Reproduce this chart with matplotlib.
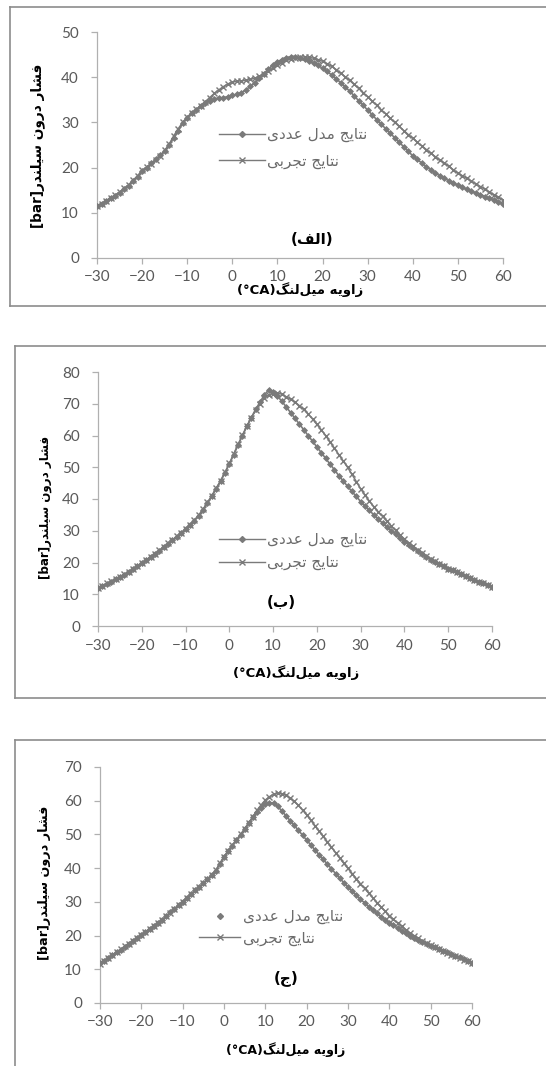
import numpy as np
import matplotlib
matplotlib.use("Agg")
import matplotlib.pyplot as plt
from matplotlib.lines import Line2D

# crank angle grid (deg CA)
crank_angle = np.arange(-30, 61)

# panel (الف)
p1_model = [11.6, 12.0, 12.6, 13.2, 13.8, 14.4, 15.2, 16.0, 17.0, 18.0,
            19.2, 20.0, 21.0, 21.8, 22.8, 23.6, 25.0, 26.6, 28.2, 29.8,
            31.0, 32.0, 32.8, 33.6, 34.3, 34.8, 35.2, 35.4, 35.5, 35.7,
            36.0, 36.2, 36.6, 37.2, 38.0, 38.8, 39.8, 40.8, 41.8, 42.7,
            43.4, 43.9, 44.3, 44.5, 44.5, 44.3, 44.0, 43.6, 43.1, 42.6,
            42.0, 41.3, 40.5, 39.7, 38.8, 37.9, 36.9, 35.9, 34.8, 33.8,
            32.7, 31.7, 30.6, 29.6, 28.6, 27.6, 26.6, 25.6, 24.6, 23.6,
            22.6, 21.8, 21.0, 20.2, 19.5, 18.8, 18.2, 17.6, 17.1, 16.6,
            16.1, 15.6, 15.2, 14.8, 14.4, 14.0, 13.6, 13.2, 12.8, 12.3,
            11.9]
p1_exp = [11.4, 12.0, 12.7, 13.3, 13.9, 14.6, 15.4, 16.2, 17.2, 18.2,
          19.4, 20.1, 20.9, 21.7, 22.6, 23.8, 25.2, 27.0, 28.6, 30.0,
          31.2, 32.1, 32.9, 33.7, 34.6, 35.5, 36.4, 37.2, 37.9, 38.5,
          38.9, 39.1, 39.2, 39.3, 39.5, 39.8, 40.2, 40.8, 41.4, 42.0,
          42.6, 43.2, 43.7, 44.0, 44.3, 44.4, 44.5, 44.4, 44.2, 43.9,
          43.5, 43.0, 42.4, 41.7, 40.9, 40.1, 39.3, 38.4, 37.5, 36.6,
          35.7, 34.7, 33.8, 32.8, 31.9, 30.9, 30.0, 29.1, 28.2, 27.3,
          26.5, 25.6, 24.8, 24.0, 23.2, 22.4, 21.7, 21.0, 20.3, 19.5,
          18.8, 18.2, 17.6, 17.0, 16.4, 15.8, 15.2, 14.6, 14.0, 13.4,
          12.9]

# panel (ب)
p2_model = [12.0, 12.6, 13.3, 14.0, 14.7, 15.4, 16.2, 17.0, 17.9, 18.8,
            19.7, 20.7, 21.7, 22.7, 23.7, 24.8, 25.9, 27.0, 28.1, 29.3,
            30.5, 31.8, 33.2, 34.8, 36.6, 38.7, 40.9, 43.2, 45.6, 48.2,
            51.0, 54.0, 57.0, 60.0, 62.9, 65.6, 68.2, 70.5, 72.8, 74.4,
            73.8, 72.4, 70.8, 69.0, 67.2, 65.4, 63.6, 61.8, 60.0, 58.2,
            56.4, 54.6, 52.8, 51.0, 49.2, 47.4, 45.7, 44.0, 42.4, 40.8,
            39.2, 37.8, 36.4, 35.0, 33.7, 32.4, 31.2, 30.0, 28.9, 27.8,
            26.6, 25.6, 24.6, 23.6, 22.6, 21.7, 20.9, 20.2, 19.5, 18.8,
            18.1, 17.5, 16.9, 16.3, 15.7, 15.1, 14.5, 13.9, 13.4, 12.9,
            12.4]
p2_exp = [12.1, 12.7, 13.4, 14.1, 14.8, 15.5, 16.3, 17.1, 18.0, 18.9,
          19.8, 20.8, 21.8, 22.8, 23.8, 24.9, 26.0, 27.1, 28.2, 29.4,
          30.6, 31.9, 33.3, 34.9, 36.8, 38.9, 41.1, 43.4, 45.8, 48.4,
          51.2, 54.2, 57.2, 60.1, 62.9, 65.5, 67.9, 70.0, 71.8, 72.8,
          73.2, 73.4, 73.0, 72.2, 71.4, 70.5, 69.4, 68.2, 66.8, 65.2,
          63.5, 61.8, 60.0, 58.0, 56.0, 54.0, 52.0, 50.0, 47.8, 45.5,
          43.2, 41.2, 39.3, 37.6, 36.0, 34.5, 33.0, 31.5, 30.1, 28.7,
          27.4, 26.2, 25.1, 24.0, 23.0, 22.1, 21.2, 20.4, 19.6, 18.8,
          18.1, 17.5, 16.9, 16.3, 15.7, 15.1, 14.5, 13.9, 13.4, 12.9,
          12.4]

# panel (ج)
p3_model = [11.8, 12.5, 13.3, 14.1, 15.0, 15.8, 16.7, 17.6, 18.5, 19.3,
            20.2, 21.1, 22.0, 22.9, 23.8, 24.7, 25.8, 26.9, 28.0, 29.0,
            30.1, 31.2, 32.3, 33.4, 34.4, 35.5, 36.7, 37.9, 39.2, 41.3,
            43.3, 45.0, 46.6, 48.2, 49.8, 51.6, 53.4, 55.1, 56.6, 57.9,
            58.9, 59.4, 59.3, 58.3, 57.0, 55.5, 54.1, 52.7, 51.2, 49.8,
            48.3, 46.9, 45.4, 44.0, 42.6, 41.2, 39.8, 38.4, 37.0, 35.7,
            34.4, 33.2, 32.0, 30.8, 29.7, 28.6, 27.6, 26.6, 25.6, 24.7,
            23.8, 23.0, 22.2, 21.4, 20.7, 20.0, 19.4, 18.8, 18.2, 17.6,
            17.0, 16.5, 16.0, 15.5, 15.0, 14.5, 14.0, 13.5, 13.0, 12.5,
            12.0]
p3_exp = [11.7, 12.4, 13.3, 14.2, 15.1, 15.9, 16.8, 17.6, 18.4, 19.3,
          20.1, 21.0, 21.9, 22.8, 23.7, 24.6, 25.7, 26.8, 27.9, 29.0,
          30.1, 31.2, 32.3, 33.4, 34.5, 35.6, 36.8, 38.0, 39.4, 41.4,
          43.4, 45.1, 46.8, 48.4, 50.0, 51.7, 53.5, 55.3, 57.2, 58.8,
          60.2, 61.2, 61.9, 62.2, 62.1, 61.6, 60.8, 59.8, 58.6, 57.2,
          55.8, 54.2, 52.6, 51.0, 49.4, 47.8, 46.2, 44.6, 43.0, 41.4,
          39.9, 38.4, 36.9, 35.4, 34.0, 32.6, 31.2, 29.8, 28.5, 27.2,
          25.9, 24.8, 23.7, 22.7, 21.7, 20.8, 20.0, 19.2, 18.5, 17.8,
          17.1, 16.5, 15.9, 15.3, 14.8, 14.3, 13.8, 13.3, 12.8, 12.4,
          12.0]

x_ticks = [-30, -20, -10, 0, 10, 20, 30, 40, 50, 60]
label_model = "نتایج مدل عددی"
label_exp = "نتایج تجربی"
y_title = "فشار درون سیلندر"
x_title = "زاویه میل‌لنگ"
panel_tags = ["الف", "ب", "ج"]

# Arabic presentation forms: isolated, final, initial, medial
FORMS = {
    'ا': ('\uFE8D', '\uFE8E', None, None),
    'ب': ('\uFE8F', '\uFE90', '\uFE91', '\uFE92'),
    'ت': ('\uFE95', '\uFE96', '\uFE97', '\uFE98'),
    'ج': ('\uFE9D', '\uFE9E', '\uFE9F', '\uFEA0'),
    'د': ('\uFEA9', '\uFEAA', None, None),
    'ر': ('\uFEAD', '\uFEAE', None, None),
    'ز': ('\uFEAF', '\uFEB0', None, None),
    'س': ('\uFEB1', '\uFEB2', '\uFEB3', '\uFEB4'),
    'ش': ('\uFEB5', '\uFEB6', '\uFEB7', '\uFEB8'),
    'ع': ('\uFEC9', '\uFECA', '\uFECB', '\uFECC'),
    'ف': ('\uFED1', '\uFED2', '\uFED3', '\uFED4'),
    'ل': ('\uFEDD', '\uFEDE', '\uFEDF', '\uFEE0'),
    'م': ('\uFEE1', '\uFEE2', '\uFEE3', '\uFEE4'),
    'ن': ('\uFEE5', '\uFEE6', '\uFEE7', '\uFEE8'),
    'ه': ('\uFEE9', '\uFEEA', '\uFEEB', '\uFEEC'),
    'و': ('\uFEED', '\uFEEE', None, None),
    'ی': ('\uFEEF', '\uFEF0', '\uFEF3', '\uFEF4'),
    'گ': ('\uFB92', '\uFB93', '\uFB94', '\uFB95'),
}


def fa(text):
    # shape persian letters and put them in visual (left to right) order
    out = []
    for i, ch in enumerate(text):
        if ch not in FORMS:
            if ch != '\u200c':
                out.append(ch)
            continue
        f = FORMS[ch]
        prev = text[i - 1] if i > 0 else ''
        nxt = text[i + 1] if i + 1 < len(text) else ''
        join_prev = prev in FORMS and FORMS[prev][2] is not None
        join_next = f[2] is not None and nxt in FORMS
        if join_prev and join_next:
            out.append(f[3])
        elif join_prev:
            out.append(f[1])
        elif join_next:
            out.append(f[2])
        else:
            out.append(f[0])
    return ''.join(reversed(out))


W, H = 546, 1066
LINE = '#7a7a7a'
TICK_TXT = '#595959'
FA_FONT = ['DejaVu Sans']


def fx(px):
    return px / W


def fy(py):
    return 1 - py / H


def draw_frame(fig, left, top, bottom):
    kw = dict(transform=fig.transFigure, color='#8c8c8c', lw=1.2)
    fig.add_artist(Line2D([fx(left), 1.0], [fy(top), fy(top)], **kw))
    fig.add_artist(Line2D([fx(left), fx(left)], [fy(top), fy(bottom)], **kw))
    if bottom < H:
        fig.add_artist(Line2D([fx(left), 1.0], [fy(bottom), fy(bottom)], **kw))


def draw_panel(fig, box, model, exp, ymax, legend, texts):
    x0, x1, ytop, y0 = box
    ax = fig.add_axes([fx(x0), fy(y0), fx(x1) - fx(x0), (y0 - ytop) / H])
    ax.plot(crank_angle, exp, color=LINE, lw=1.1, marker='x', ms=3.8,
            mew=1.0, zorder=3)
    ax.plot(crank_angle, model, color=LINE, lw=1.2, marker='D', ms=3.0,
            mew=0.6, zorder=4)
    ax.set_xlim(-30, 60)
    ax.set_ylim(0, ymax)
    ax.set_xticks(x_ticks)
    ax.set_yticks(np.arange(0, ymax + 1, 10))
    for s in ['top', 'right']:
        ax.spines[s].set_visible(False)
    for s in ['left', 'bottom']:
        ax.spines[s].set_color('#b0b0b0')
        ax.spines[s].set_linewidth(0.9)
    ax.tick_params(colors='#b0b0b0', labelcolor=TICK_TXT, length=4,
                   width=0.9, labelsize=11)
    ax.tick_params(axis='y', pad=9)
    ax.tick_params(axis='x', pad=5)
    for lab in ax.get_xticklabels() + ax.get_yticklabels():
        lab.set_fontfamily('Lato')
    ax.patch.set_alpha(0)

    lx, ly, hl, spacing, marker_only = legend
    if marker_only:
        h1 = Line2D([], [], ls='none', color=LINE, marker='D', ms=3.0)
    else:
        h1 = Line2D([], [], color=LINE, lw=1.0, marker='D', ms=3.0)
    h2 = Line2D([], [], color=LINE, lw=1.0, marker='x', ms=3.8, mew=1.0)
    leg = ax.legend([h1, h2], [fa(label_model), fa(label_exp)],
                    loc='upper left', bbox_to_anchor=(fx(lx), fy(ly)),
                    bbox_transform=fig.transFigure, frameon=False,
                    handlelength=hl, handletextpad=0.15, borderpad=0,
                    borderaxespad=0, labelspacing=spacing,
                    prop={'family': FA_FONT, 'size': 11})
    for t in leg.get_texts():
        t.set_color('#6b6b6b')

    (tx, ty, tag), (xlx, xly, xs), (ylx, yly, ys) = texts
    fig.text(fx(tx), fy(ty), '(' + fa(tag) + ')', ha='center', va='center',
             family=FA_FONT, fontsize=11, fontweight='bold')
    fig.text(fx(xlx), fy(xly), '(°CA)' + fa(x_title), ha='center',
             va='center', family=FA_FONT, fontsize=xs, fontweight='bold')
    fig.text(fx(ylx), fy(yly), '[bar]' + fa(y_title), ha='center',
             va='center', rotation=90, family=FA_FONT, fontsize=ys,
             fontweight='bold')
    return ax


if __name__ == "__main__":
    fig = plt.figure(figsize=(W / 100, H / 100), dpi=100)

    draw_frame(fig, 10, 7, 306)
    draw_frame(fig, 15, 346, 698)
    draw_frame(fig, 15, 740, H + 10)

    draw_panel(fig, (97, 503, 32, 258), p1_model, p1_exp, 50,
               (219, 127, 3.0, 0.75, False),
               ((312, 240, panel_tags[0]), (300, 290, 9.5), (38, 146, 9.8)))
    draw_panel(fig, (98, 492, 372, 626), p2_model, p2_exp, 80,
               (219, 532, 3.0, 0.5, False),
               ((281, 602, panel_tags[1]), (296, 673, 9.5), (45, 507, 8.6)))
    draw_panel(fig, (100, 472, 767, 1003), p3_model, p3_exp, 70,
               (199, 909, 2.7, 0.4, True),
               ((286, 978, panel_tags[2]), (286, 1050, 9.0), (45, 883, 9.2)))

    fig.savefig('out.png', dpi=100)
